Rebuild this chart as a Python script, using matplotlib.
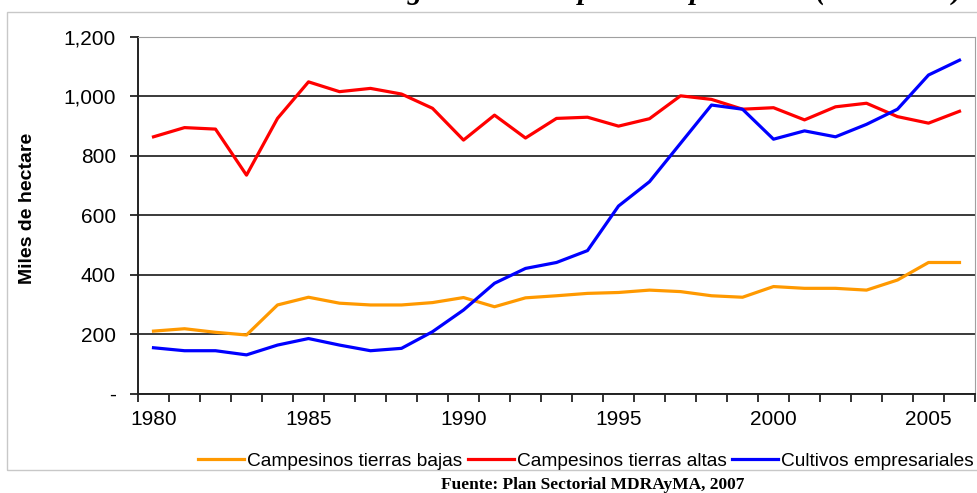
import matplotlib.pyplot as plt
from matplotlib.patches import Rectangle

plt.rcParams['font.family'] = ['Liberation Sans', 'DejaVu Sans']

years = list(range(1980, 2007))
tierras_bajas = [210, 218, 206, 197, 298, 324, 304, 298, 298, 306,
                 323, 292, 322, 329, 337, 340, 348, 343, 329, 324,
                 360, 354, 354, 348, 382, 441, 441]
tierras_altas = [864, 895, 890, 735, 926, 1049, 1016, 1027, 1008, 960,
                 853, 937, 860, 926, 930, 900, 925, 1002, 990, 957,
                 962, 921, 965, 977, 932, 910, 950]
empresariales = [154, 144, 144, 130, 163, 185, 163, 144, 152, 208,
                 281, 371, 421, 441, 481, 631, 713, 842, 971, 957,
                 856, 884, 864, 906, 957, 1072, 1122]

y_ticks = [0, 200, 400, 600, 800, 1000, 1200]
y_labels = ['-', '200', '400', '600', '800', '1,000', '1,200']

fig = plt.figure(figsize=(9.77, 4.93), dpi=100)
ax = fig.add_axes([138 / 977, 1 - 393.5 / 493, (975 - 138) / 977, (393.5 - 37) / 493])

idx = list(range(len(years)))
ax.plot(idx, tierras_bajas, color='#FF9900', lw=2.3, label='Campesinos tierras bajas')
ax.plot(idx, tierras_altas, color='#FF0000', lw=2.3, label='Campesinos tierras altas')
ax.plot(idx, empresariales, color='#0000FF', lw=2.3, label='Cultivos empresariales')

ax.set_xlim(-0.5, len(years) - 0.5)
ax.set_ylim(0, 1200)

# excel-style category axis: ticks between categories, labels every 5 years
ax.set_xticks([i - 0.5 for i in range(len(years) + 1)])
ax.set_xticklabels([])
ax.set_xticks([i for i in idx if years[i] % 5 == 0], minor=True)
ax.set_xticklabels([str(years[i]) for i in idx if years[i] % 5 == 0], minor=True)
ax.tick_params(axis='x', which='major', direction='out', length=6, width=1.3, color='#222222')
ax.tick_params(axis='x', which='minor', length=0, pad=12, labelsize=15)

ax.set_yticks(y_ticks)
ax.set_yticklabels(y_labels)
ax.tick_params(axis='y', direction='out', length=6, width=1.3, color='#222222', pad=10, labelsize=15)

ax.grid(axis='y', color='#3a3a3a', lw=1.4)
ax.set_axisbelow(True)
ax.spines['left'].set_color('#222222')
ax.spines['left'].set_linewidth(1.4)
ax.spines['bottom'].set_color('#222222')
ax.spines['bottom'].set_linewidth(1.4)
ax.spines['top'].set_color('#a0a0a0')
ax.spines['right'].set_color('#a0a0a0')

fig.text(28 / 977, 1 - 208 / 493, 'Miles de hectare', rotation=90, ha='center', va='center',
         fontsize=14, fontweight='bold')

fig.legend(loc='center', bbox_to_anchor=(586 / 977, 1 - 461 / 493), ncol=3, frameon=False,
           fontsize=13.8, handlelength=2.4, handletextpad=0.15, columnspacing=0.3)

# outer chart border
fig.patches.append(Rectangle((7 / 977, 1 - 470 / 493), 1.0, (470 - 12) / 493,
                             transform=fig.transFigure, fill=False, edgecolor='#c8c8c8', lw=1))

# title clipped at the top of the picture, only the descenders show
fig.text(962 / 977, 1 + 1 / 493,
         'Bolivia: evolución de la tierra agrícola usada por cada productor (1980-2006)',
         ha='right', va='baseline', fontsize=21, fontweight='bold', style='italic',
         family='Liberation Serif')

fig.text(593 / 977, 1 - 485 / 493, 'Fuente: Plan Sectorial MDRAyMA, 2007', ha='center', va='center',
         fontsize=12.5, fontweight='bold', family='Liberation Serif')

fig.savefig('out.png', dpi=100)
